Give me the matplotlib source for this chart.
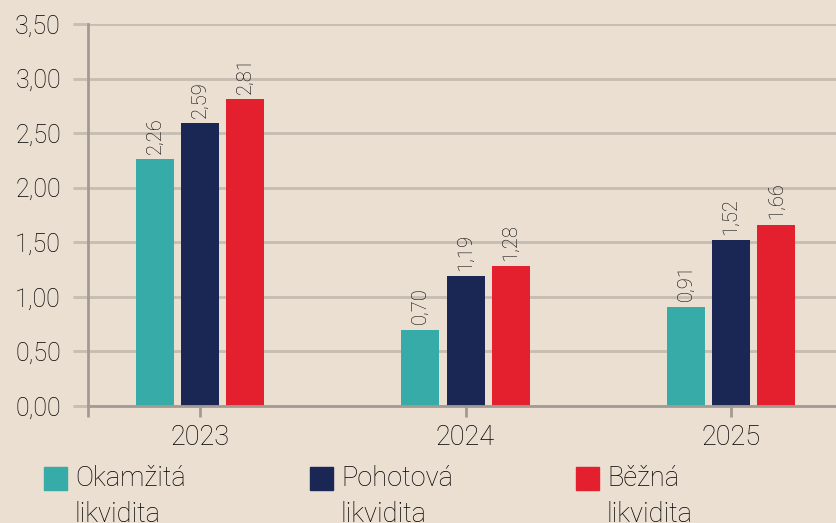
#!/usr/bin/env python3
"""
Liquidity ratios 2023-2025 - grouped bar chart
"""

import matplotlib
matplotlib.use('Agg')
import matplotlib.pyplot as plt
from matplotlib.patches import Rectangle
import numpy as np

# Data
years = ['2023', '2024', '2025']
series_names = ['Okamžitá\nlikvidita', 'Pohotová\nlikvidita', 'Běžná\nlikvidita']
okamzita = [2.26, 0.70, 0.91]
pohotova = [2.59, 1.19, 1.52]
bezna = [2.81, 1.28, 1.66]
y_ticks = [0.0, 0.5, 1.0, 1.5, 2.0, 2.5, 3.0, 3.5]

colors = ['#36ABA8', '#1A2654', '#E4202E']
bg = '#EADFD1'
grid_color = '#C6BDB2'
axis_color = '#A39B93'
text_color = '#000000'

plt.rcParams['font.family'] = ['Roboto', 'DejaVu Sans']
plt.rcParams['font.weight'] = 'light'

fig = plt.figure(figsize=(8.37, 5.23), dpi=100, facecolor=bg)
ax = fig.add_axes([88 / 837, 1 - 406 / 523, 1 - 88 / 837, (406 - 24) / 523])
ax.set_facecolor(bg)

x = np.arange(len(years))
width = 0.143
offset = 0.17

for i, (vals, color) in enumerate(zip([okamzita, pohotova, bezna], colors)):
    pos = x + (i - 1) * offset
    ax.bar(pos, vals, width=width, color=color, zorder=3)
    # rotated value labels above each bar
    for xp, v in zip(pos, vals):
        ax.annotate(f'{v:.2f}'.replace('.', ','), (xp, v),
                    xytext=(0, 4), textcoords='offset points',
                    rotation=90, ha='center', va='bottom',
                    fontsize=14.5, color=text_color, fontweight='light')

# axes limits and ticks
ax.set_ylim(0, 3.5)
ax.set_xlim(-0.423, 2.40)
ax.set_yticks(y_ticks)
ax.set_yticklabels([f'{t:.2f}'.replace('.', ',') for t in y_ticks])
ax.set_xticks([-0.423] + list(x))
ax.set_xticklabels([''] + years)

ax.tick_params(axis='y', length=11, width=2, color=grid_color,
               labelsize=18, labelcolor=text_color, pad=8.5)
ax.tick_params(axis='x', length=8, width=2, color=axis_color,
               labelsize=19.5, labelcolor=text_color, pad=5)

# grid
ax.yaxis.grid(True, color=grid_color, linewidth=2, zorder=0)
ax.set_axisbelow(True)

for side in ['top', 'right']:
    ax.spines[side].set_visible(False)
ax.spines['left'].set_color(axis_color)
ax.spines['left'].set_linewidth(2)
ax.spines['bottom'].set_color(axis_color)
ax.spines['bottom'].set_linewidth(2)
ax.spines['bottom'].set_zorder(4)

# legend drawn by hand at the bottom
legend_x = [44, 310, 576]
for lx, name, color in zip(legend_x, series_names, colors):
    fig.patches.append(Rectangle((lx / 837, 1 - 490 / 523), 23 / 837, 23 / 523,
                                 transform=fig.transFigure, color=color))
    fig.text((lx + 31) / 837, 1 - 465 / 523, name, ha='left', va='top',
             fontsize=19.5, color=text_color, linespacing=1.45,
             fontweight='light')

plt.savefig('out.png', dpi=100, facecolor=bg)
